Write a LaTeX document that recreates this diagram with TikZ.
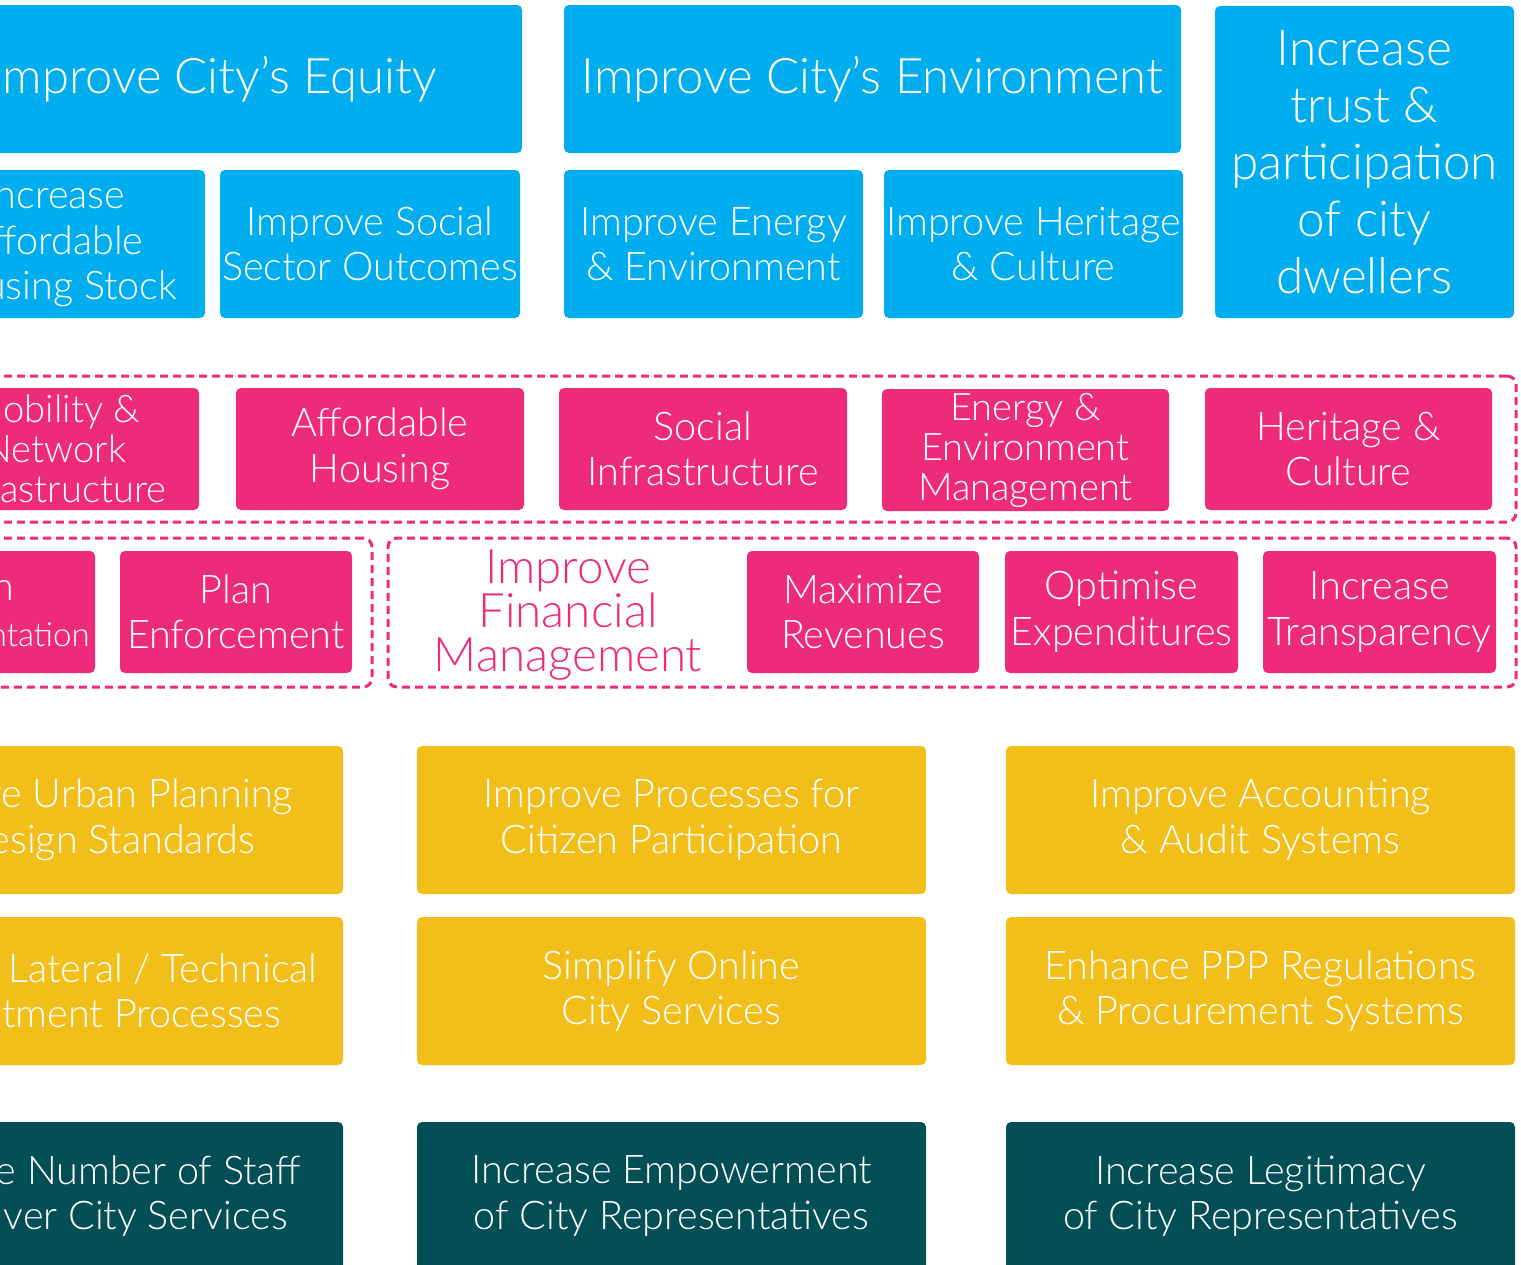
\documentclass[tikz,border=0pt]{standalone}
\usepackage{fontspec}
\IfFontExistsTF{Lato Light}{\setmainfont{Lato Light}}{\setmainfont{Lato}}
\definecolor{cblue}{HTML}{00AEEF}
\definecolor{cpink}{HTML}{EE2B7B}
\definecolor{cyellow}{HTML}{F2BE1A}
\definecolor{cteal}{HTML}{044E56}
\newcommand{\fsTitle}{\fontsize{49}{56}\selectfont}
\newcommand{\fsTrust}{\fontsize{49.5}{57}\selectfont}
\newcommand{\fsMid}{\fontsize{39.5}{45.5}\selectfont}
\newcommand{\fsThree}{\fontsize{38}{40}\selectfont}
\newcommand{\fsFin}{\fontsize{47.5}{44}\selectfont}
\begin{document}
\begin{tikzpicture}[x=1pt,y=-1pt,
  bx/.style 2 args={rounded corners=5pt, inner sep=0pt, text=white, align=center,
    minimum width=#1pt, minimum height=#2pt, font=\fsMid},
  bluebox/.style={bx={#1}{148}, fill=cblue},
  pinkbox/.style={bx={#1}{122}, fill=cpink},
  yelbox/.style={bx={509}{148}, fill=cyellow},
  tealbox/.style={bx={509}{148}, fill=cteal},
  frame/.style 2 args={draw=cpink, line width=3pt, dash pattern=on 8pt off 5pt,
    rounded corners=9pt, inner sep=0pt, minimum width=#1pt, minimum height=#2pt},
]
\useasboundingbox (0,0) rectangle (1521,1264);
\clip (0,0) rectangle (1521,1264);
\fill[white] (0,0) rectangle (1521,1264);

% ---- blue tier ----
\node[bluebox=617, font=\fsTitle] (equity) at (213.5,79) {Improve City’s Equity};
\node[bluebox=617, font=\fsTitle] (env) at (872.5,79) {Improve City’s Environment};
\node[bx={299}{312}, fill=cblue, font=\fsTrust] (trust) at (1364.5,162)
  {Increase\\ trust \&\\ participation\\ of city\\ dwellers};
\node[bluebox=300] (stock) at (55,244) {Increase\\ Affordable\\ Housing Stock};
\node[bluebox=300] (social) at (370,244) {Improve Social\\ Sector Outcomes};
\node[bluebox=299] (energy) at (713.5,244) {Improve Energy\\ \& Environment};
\node[bluebox=299] (heritage) at (1033.5,244) {Improve Heritage\\ \& Culture};

% ---- pink tier ----
\node[frame={1556}{146}] (frameA) at (738,449) {};
\node[frame={412}{149}] (frameB) at (166,612.5) {};
\node[frame={1128}{149}] (frameC) at (952,612.5) {};

\node[pinkbox=288, font=\fsThree] (mobility) at (55,449) {Mobility \&\\ Network\\ Infrastructure};
\node[pinkbox=288] (afford) at (380,449) {Affordable\\ Housing};
\node[pinkbox=288] (socinf) at (703,449) {Social\\ Infrastructure};
\node[pinkbox=287, font=\fsThree] (envmgmt) at (1025.5,450) {Energy \&\\ Environment\\ Management};
\node[pinkbox=287] (herit) at (1348.5,449) {Heritage \&\\ Culture};

\node[pinkbox=233] (planimpl) at (-21.5,612) {Plan\\ {\fontsize{33}{45}\selectfont Implementation}};
\node[pinkbox=232] (planenf) at (236,612) {Plan\\ Enforcement};
\node[text=cpink, align=center, inner sep=0pt, font=\fsFin] (finmgmt) at (568,615) {Improve\\ Financial\\ Management};
\node[pinkbox=232] (maxrev) at (863,612) {Maximize\\ Revenues};
\node[pinkbox=233] (optexp) at (1121.5,612) {Optimise\\ Expenditures};
\node[pinkbox=233] (transp) at (1379.5,612) {Increase\\ Transparency};

% ---- yellow tier ----
\node[yelbox] (urban) at (88.5,820) {Improve Urban Planning\\ \& Design Standards};
\node[yelbox] (citizen) at (671.5,820) {Improve Processes for\\ Citizen Participation};
\node[yelbox] (audit) at (1260.5,820) {Improve Accounting\\ \& Audit Systems};
\node[yelbox] (lateral) at (88.5,991) {Improve Lateral / Technical\\ Recruitment Processes};
\node[yelbox] (online) at (671.5,991) {Simplify Online\\ City Services};
\node[yelbox] (ppp) at (1260.5,991) {Enhance PPP Regulations\\ \& Procurement Systems};

% ---- teal tier ----
\node[tealbox] (staff) at (88.5,1196) {Increase Number of Staff\\ to Deliver City Services};
\node[tealbox] (empower) at (671.5,1196) {Increase Empowerment\\ of City Representatives};
\node[tealbox] (legit) at (1260.5,1196) {Increase Legitimacy\\ of City Representatives};
\end{tikzpicture}
\end{document}
